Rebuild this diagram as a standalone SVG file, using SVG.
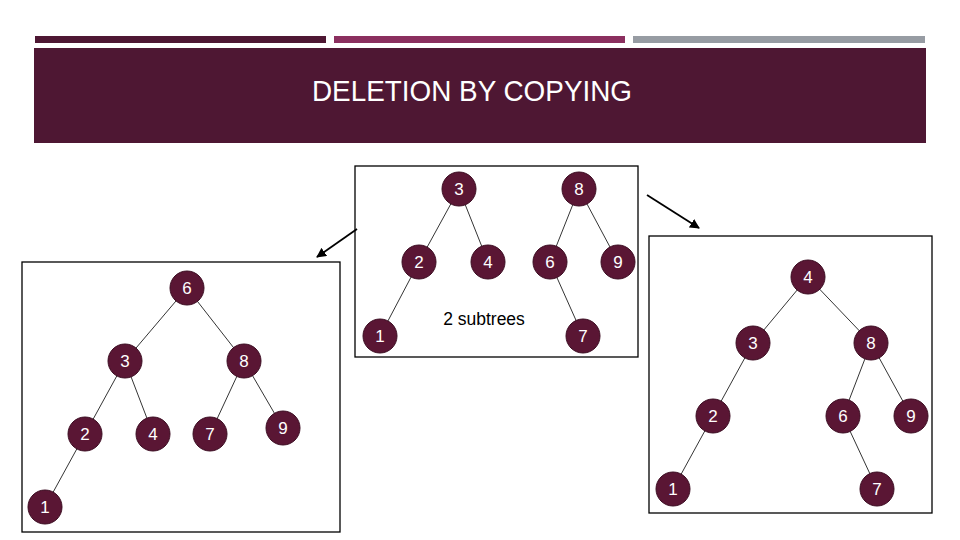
<svg xmlns="http://www.w3.org/2000/svg" width="960" height="540" viewBox="0 0 960 540">
<defs>
<style>
.bar{stroke:none}
.panel{fill:#fff;stroke:#000;stroke-width:1.3}
.edge{stroke:#000;stroke-width:0.8;fill:none}
.arrow{stroke:#000;stroke-width:1.8;fill:none}
.node circle{fill:#5a1634;stroke:#3c0d22;stroke-width:1}
.node text{fill:#fff;font-family:"Liberation Sans",Arial,sans-serif;font-size:17px;text-anchor:middle}
.title{fill:#fff;font-family:"Liberation Sans",Arial,sans-serif;font-size:29px;text-anchor:middle}
.label{fill:#000;font-family:"Liberation Sans",Arial,sans-serif;font-size:17.5px;text-anchor:middle}
</style>
<marker id="ah" viewBox="0 0 10 10" refX="9" refY="5" markerWidth="5.5" markerHeight="5.5" orient="auto" markerUnits="strokeWidth">
<path d="M0,0 L10,5 L0,10 z" fill="#000"/>
</marker>
</defs>
<rect width="960" height="540" fill="#fff"/>
<rect class="bar" x="35" y="36" width="291" height="7" fill="#4e1733"/>
<rect class="bar" x="334" y="36" width="291" height="7" fill="#8b2f5f"/>
<rect class="bar" x="633" y="36" width="292" height="7" fill="#979ca3"/>
<rect x="34" y="48" width="892" height="95" fill="#4e1733"/>
<text class="title" x="472" y="101" textLength="320" lengthAdjust="spacingAndGlyphs">DELETION BY COPYING</text>

<rect class="panel" x="355" y="166" width="283" height="191"/>
<rect class="panel" x="22" y="262" width="318" height="270"/>
<rect class="panel" x="649" y="236" width="283" height="277"/>

<g id="connectors">
<line class="arrow" x1="357" y1="229" x2="317" y2="257" marker-end="url(#ah)"/>
<line class="arrow" x1="647" y1="195" x2="699" y2="228" marker-end="url(#ah)"/>
<line class="edge" x1="459" y1="189" x2="419" y2="262"/>
<line class="edge" x1="459" y1="189" x2="488" y2="262"/>
<line class="edge" x1="579" y1="189" x2="550" y2="262"/>
<line class="edge" x1="579" y1="189" x2="618" y2="262"/>
<line class="edge" x1="419" y1="262" x2="380" y2="336"/>
<line class="edge" x1="550" y1="262" x2="583" y2="336"/>
<line class="edge" x1="187" y1="288" x2="125" y2="361"/>
<line class="edge" x1="187" y1="288" x2="244" y2="361"/>
<line class="edge" x1="125" y1="361" x2="85" y2="434"/>
<line class="edge" x1="125" y1="361" x2="153" y2="434"/>
<line class="edge" x1="244" y1="361" x2="210" y2="434"/>
<line class="edge" x1="244" y1="361" x2="283" y2="428"/>
<line class="edge" x1="85" y1="434" x2="45" y2="507"/>
<line class="edge" x1="808" y1="277" x2="753" y2="343"/>
<line class="edge" x1="808" y1="277" x2="871" y2="343"/>
<line class="edge" x1="753" y1="343" x2="713" y2="416"/>
<line class="edge" x1="713" y1="416" x2="673" y2="489"/>
<line class="edge" x1="871" y1="343" x2="843" y2="416"/>
<line class="edge" x1="871" y1="343" x2="911" y2="416"/>
<line class="edge" x1="843" y1="416" x2="877" y2="489"/>
</g>

<text class="label" x="484" y="325">2 subtrees</text>

<g id="c3" class="node"><circle cx="459" cy="189" r="17"/><text x="459" y="195">3</text></g>
<g id="c8" class="node"><circle cx="579" cy="189" r="17"/><text x="579" y="195">8</text></g>
<g id="c2" class="node"><circle cx="419" cy="262" r="17"/><text x="419" y="268">2</text></g>
<g id="c4" class="node"><circle cx="488" cy="262" r="17"/><text x="488" y="268">4</text></g>
<g id="c6" class="node"><circle cx="550" cy="262" r="17"/><text x="550" y="268">6</text></g>
<g id="c9" class="node"><circle cx="618" cy="262" r="17"/><text x="618" y="268">9</text></g>
<g id="c1" class="node"><circle cx="380" cy="336" r="17"/><text x="380" y="342">1</text></g>
<g id="c7" class="node"><circle cx="583" cy="336" r="17"/><text x="583" y="342">7</text></g>

<g id="l6" class="node"><circle cx="187" cy="288" r="17"/><text x="187" y="294">6</text></g>
<g id="l3" class="node"><circle cx="125" cy="361" r="17"/><text x="125" y="367">3</text></g>
<g id="l8" class="node"><circle cx="244" cy="361" r="17"/><text x="244" y="367">8</text></g>
<g id="l2" class="node"><circle cx="85" cy="434" r="17"/><text x="85" y="440">2</text></g>
<g id="l4" class="node"><circle cx="153" cy="434" r="17"/><text x="153" y="440">4</text></g>
<g id="l7" class="node"><circle cx="210" cy="434" r="17"/><text x="210" y="440">7</text></g>
<g id="l9" class="node"><circle cx="283" cy="428" r="17"/><text x="283" y="434">9</text></g>
<g id="l1" class="node"><circle cx="45" cy="507" r="17"/><text x="45" y="513">1</text></g>

<g id="r4" class="node"><circle cx="808" cy="277" r="17"/><text x="808" y="283">4</text></g>
<g id="r3" class="node"><circle cx="753" cy="343" r="17"/><text x="753" y="349">3</text></g>
<g id="r8" class="node"><circle cx="871" cy="343" r="17"/><text x="871" y="349">8</text></g>
<g id="r2" class="node"><circle cx="713" cy="416" r="17"/><text x="713" y="422">2</text></g>
<g id="r6" class="node"><circle cx="843" cy="416" r="17"/><text x="843" y="422">6</text></g>
<g id="r9" class="node"><circle cx="911" cy="416" r="17"/><text x="911" y="422">9</text></g>
<g id="r1" class="node"><circle cx="673" cy="489" r="17"/><text x="673" y="495">1</text></g>
<g id="r7" class="node"><circle cx="877" cy="489" r="17"/><text x="877" y="495">7</text></g>
</svg>
